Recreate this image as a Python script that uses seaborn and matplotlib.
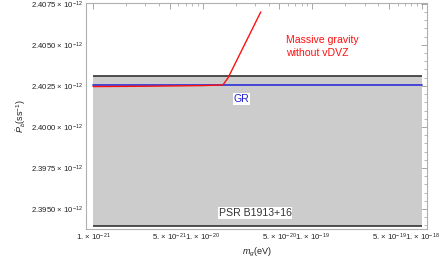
import numpy as np
import pandas as pd
import matplotlib
matplotlib.use("Agg")
import matplotlib.pyplot as plt
import seaborn as sns
from matplotlib.ticker import FixedLocator, FuncFormatter

# ---------------- data (Pb dot in units of 1e-12 s/s) ----------------
mg_ev = [1e-21, 3e-21, 1e-20, 1.4e-20, 1.53e-20, 1.7e-20, 3.38e-20]
pb_massive = [2.40246, 2.40248, 2.40252, 2.40255, 2.40257, 2.40299, 2.40701]
pb_gr = 2.40255
psr_upper = 2.40312
psr_lower = 2.39398

x_major = [1e-21, 5e-21, 1e-20, 5e-20, 1e-19, 5e-19, 1e-18]
y_major = [2.3950, 2.3975, 2.4000, 2.4025, 2.4050, 2.4075]

df = pd.DataFrame({"mg": mg_ev, "pb": pb_massive})
x_span = [1e-21, 1e-18]
df_gr = pd.DataFrame({"mg": x_span, "pb": [pb_gr, pb_gr]})

# ---------------- figure ----------------
sns.set_style("white")
plt.rcParams["font.family"] = ["Liberation Sans", "DejaVu Sans"]
plt.rcParams["mathtext.fontset"] = "custom"
plt.rcParams["mathtext.rm"] = "Liberation Sans"
plt.rcParams["mathtext.it"] = "Liberation Sans:italic"

fig = plt.figure(figsize=(4.43, 2.62), dpi=100)
ax = fig.add_axes([0.194, 0.126, 0.770, 0.863])

ax.set_xscale("log")
ax.fill_between(x_span, psr_lower, psr_upper, color="#cccccc", lw=0, zorder=1)
ax.hlines([psr_upper, psr_lower], x_span[0], x_span[1], color="#333333", lw=1.2, zorder=2)
sns.lineplot(data=df_gr, x="mg", y="pb", color="#3a3ad6", lw=1.3, ax=ax, zorder=3)
sns.lineplot(data=df, x="mg", y="pb", color="#ff1010", lw=1.0, ax=ax, zorder=4)

ax.set_xlim(8.6e-22, 1.11e-18)
ax.set_ylim(2.39378, 2.40756)

# ticks
ax.xaxis.set_major_locator(FixedLocator(x_major))
minor = [m * 10.0 ** e for e in (-21, -20, -19) for m in range(2, 10) if m != 5]
ax.xaxis.set_minor_locator(FixedLocator(minor))
ax.yaxis.set_major_locator(FixedLocator(y_major))
ax.yaxis.set_minor_locator(FixedLocator(np.arange(2.3940, 2.4076, 0.0005)))


def xfmt(v, pos):
    e = int(np.floor(np.log10(v) + 1e-9))
    m = v / 10.0 ** e
    return r"%d. $\times$ 10$^{%d}$" % (round(m), e)


def yfmt(v, pos):
    return r"%.4f $\times$ 10$^{-12}$" % v


ax.xaxis.set_major_formatter(FuncFormatter(xfmt))
ax.yaxis.set_major_formatter(FuncFormatter(yfmt))
ax.tick_params(which="both", direction="in", top=True, right=True,
               color="#999999", labelsize=5.6, pad=2, labelcolor="#222222")
ax.tick_params(which="major", length=4, width=0.6)
ax.tick_params(which="minor", length=2, width=0.5)
for s in ax.spines.values():
    s.set_color("#b0b0b0")
    s.set_linewidth(0.8)

ax.set_xlabel(r"$m_g$(eV)", fontsize=6.5, labelpad=2, color="#222222")
ax.set_ylabel(r"$\dot{P}_b$(ss$^{-1}$)", fontsize=6.5, labelpad=2, color="#222222")

# annotations
ax.text(5.75e-20, 2.4049, "Massive gravity\nwithout vDVZ", color="#ff1010",
        fontsize=7.6, ha="left", va="center", linespacing=1.4)
ax.text(2.26e-20, 2.40171, "GR", color="#2020d0", fontsize=7.6, ha="center", va="center",
        bbox=dict(facecolor="white", edgecolor="none", pad=0.6))
ax.text(3.0e-20, 2.39475, "PSR B1913+16", color="#333333", fontsize=7.6, ha="center",
        va="center", bbox=dict(facecolor="white", edgecolor="none", pad=0.6))

fig.savefig("out.png", dpi=100)
